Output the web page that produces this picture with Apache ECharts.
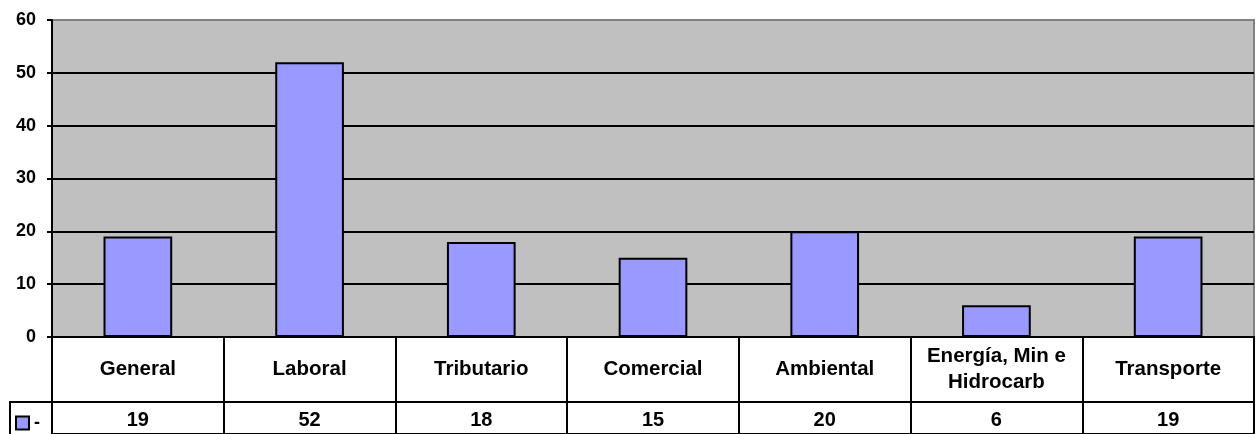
<!DOCTYPE html>
<html><head><meta charset="utf-8">
<script src="https://cdn.jsdelivr.net/npm/echarts@6/dist/echarts.min.js"></script>
<style>html,body{margin:0;padding:0;background:#fff}#c{width:1256px;height:434px}</style>
</head><body><div id="c"></div>
<script>
var categories = ['General','Laboral','Tributario','Comercial','Ambiental','Energía, Min e\nHidrocarb','Transporte'];
var values = [19, 52, 18, 15, 20, 6, 19];
var seriesName = '-';
var yTicks = [0, 10, 20, 30, 40, 50, 60];

var FONT = '"Liberation Sans", Arial, sans-serif';
var chart = echarts.init(document.getElementById('c'), null, {renderer:'canvas'});
var splitColors = yTicks.map(function(t, i){ return i === yTicks.length - 1 ? '#808080' : '#000'; });
chart.setOption({
  animation: false,
  grid: [
    {left: 52, right: 2, top: 20, bottom: 97, show: true, backgroundColor: '#C0C0C0', borderColor: '#808080', borderWidth: 2},
    {left: 52, right: 2, top: 337, height: 65, show: true, backgroundColor: '#fff', borderColor: '#000', borderWidth: 2},
    {left: 52, right: 2, top: 402, height: 34, show: true, backgroundColor: '#fff', borderColor: '#000', borderWidth: 2}
  ],
  legend: {
    data: [seriesName], left: 10, top: 409, itemWidth: 13, itemHeight: 13, itemGap: 4,
    icon: 'rect', textStyle: {fontFamily: FONT, fontWeight: 'bold', fontSize: 18, color: '#000'}
  },
  graphic: [
    {type: 'rect', shape: {x: 10, y: 402, width: 42, height: 40}, style: {fill: 'none', stroke: '#000', lineWidth: 2}, z: 100}
  ],
  xAxis: [
    {gridIndex: 0, type: 'category', data: categories, axisLabel: {show: false}, axisTick: {show: false},
     axisLine: {lineStyle: {color: '#000', width: 2}}, splitLine: {show: false}},
    {gridIndex: 1, type: 'category', data: categories, axisLabel: {show: false}, axisTick: {show: false},
     axisLine: {show: false}, splitLine: {show: true, interval: 0, lineStyle: {color: '#000', width: 2}}},
    {gridIndex: 2, type: 'category', data: categories, axisLabel: {show: false}, axisTick: {show: false},
     axisLine: {show: false}, splitLine: {show: true, interval: 0, lineStyle: {color: '#000', width: 2}}}
  ],
  yAxis: [
    {gridIndex: 0, type: 'value', min: yTicks[0], max: yTicks[yTicks.length-1], interval: 10,
     axisLine: {show: true, lineStyle: {color: '#000', width: 2}},
     axisTick: {show: true, length: 5, lineStyle: {color: '#000', width: 2}},
     axisLabel: {fontFamily: FONT, fontWeight: 'bold', fontSize: 18, color: '#000', margin: 16},
     splitLine: {show: true, lineStyle: {color: splitColors, width: 2}}},
    {gridIndex: 1, type: 'value', min: 0, max: 1, show: false},
    {gridIndex: 2, type: 'value', min: 0, max: 1, show: false}
  ],
  series: [
    {name: seriesName, type: 'bar', xAxisIndex: 0, yAxisIndex: 0, data: values, barCategoryGap: '60%',
     itemStyle: {color: '#9999FF', borderColor: '#000', borderWidth: 2}},
    {type: 'scatter', xAxisIndex: 1, yAxisIndex: 1, data: categories.map(function(c,i){return [i, 0.5];}), symbolSize: 1, itemStyle: {color: '#fff', opacity: 1},
     label: {show: true, position: 'inside', formatter: function(p){ return categories[p.dataIndex]; },
       fontFamily: FONT, fontWeight: 'bold', fontSize: 20.5, color: '#000', lineHeight: 26}, silent: true},
    {type: 'scatter', xAxisIndex: 2, yAxisIndex: 2, data: categories.map(function(c,i){return [i, 0.43];}), symbolSize: 1, itemStyle: {color: '#fff', opacity: 1},
     label: {show: true, position: 'inside', formatter: function(p){ return String(values[p.dataIndex]); },
       fontFamily: FONT, fontWeight: 'bold', fontSize: 20, color: '#000'}, silent: true}
  ]
});
</script></body></html>
